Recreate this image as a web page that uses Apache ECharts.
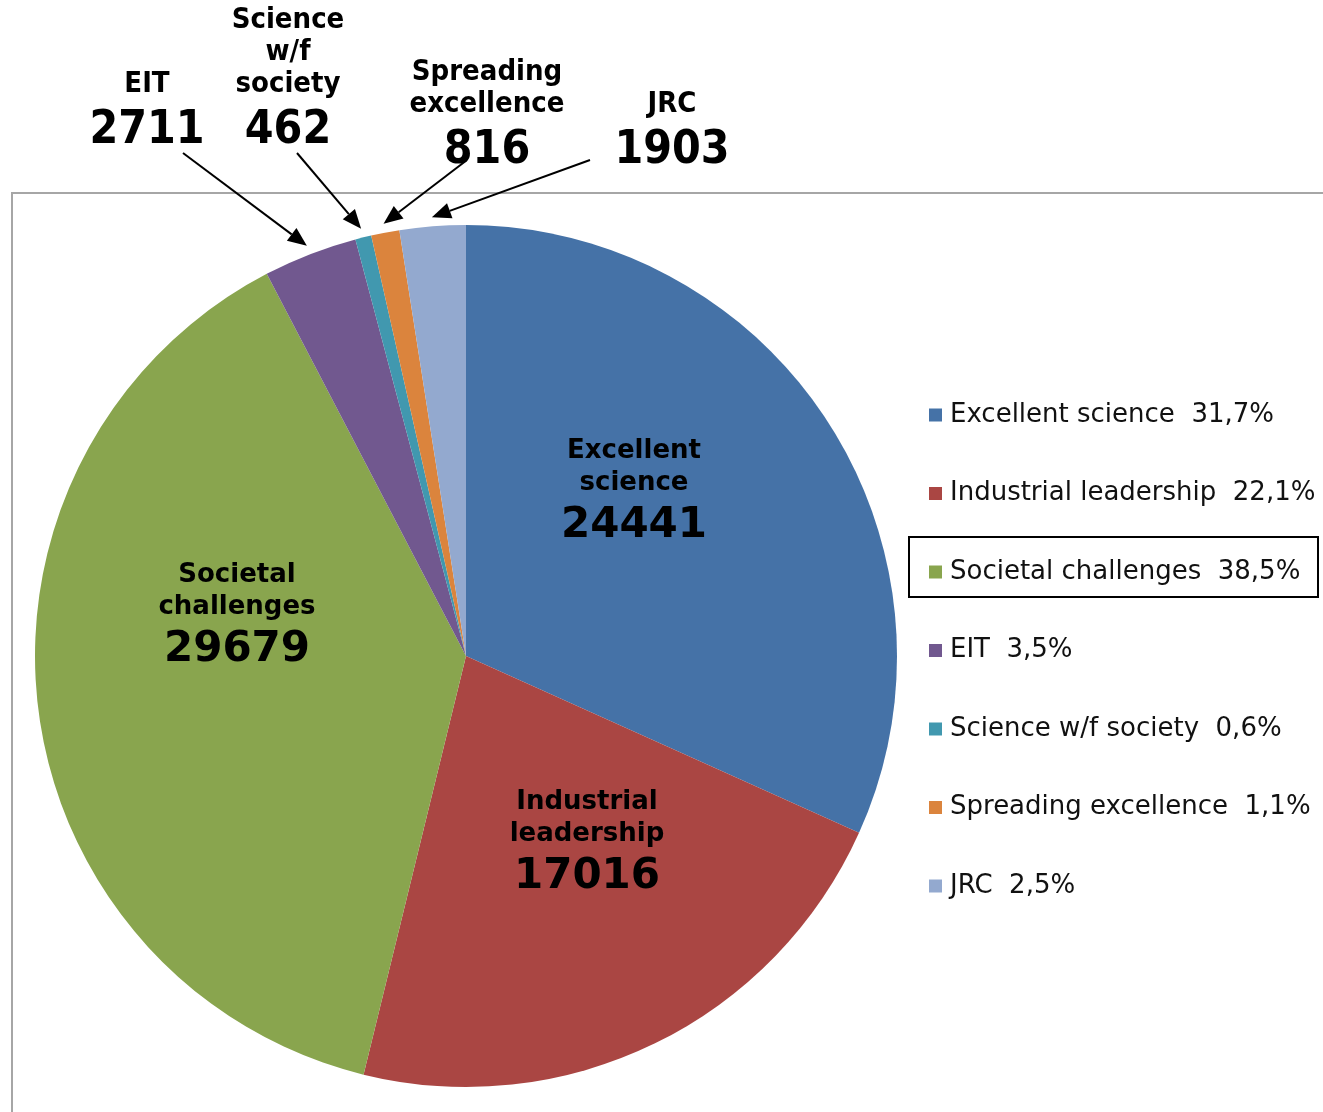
<!DOCTYPE html>
<html>
<head>
  <meta charset="utf-8">
  <title>Horizon 2020 budget</title>
  <script src="https://cdn.jsdelivr.net/npm/echarts@6/dist/echarts.min.js"></script>
  <style>
    html, body { margin: 0; padding: 0; background: #fff; }
    #view { width: 1323px; height: 1112px; }
  </style>
</head>
<body>
  <div id="view"></div>
  <script>
    // data
    var categories = ['Excellent science', 'Industrial leadership', 'Societal challenges', 'EIT',
      'Science w/f society', 'Spreading excellence', 'JRC'];
    var labelNames = ['Excellent\nscience', 'Industrial\nleadership', 'Societal\nchallenges', 'EIT',
      'Science\nw/f\nsociety', 'Spreading\nexcellence', 'JRC'];
    var values = [24441, 17016, 29679, 2711, 462, 816, 1903];
    var colors = ['#4572A7', '#AA4643', '#89A54E', '#71588F', '#4198AF', '#DB843D', '#93A9CF'];

    var cx = 466, cy = 656, R = 431;
    // where each label sits (x centre, top of first line)
    var labelPos = [[634, 435], [587, 786], [237, 559], [147, 68], [288, 4], [487, 56], [672, 88]];
    // arrow tails for the small slices
    var arrowFrom = { 3: [183, 153], 4: [297, 153], 5: [467, 160], 6: [590, 160] };

    var total = 0;
    for (var i = 0; i < values.length; i++) total += values[i];

    function pct(v) {
      return (v / total * 100).toFixed(1).replace('.', ',') + '%';
    }

    var pieData = [];
    for (var i = 0; i < categories.length; i++) {
      pieData.push({ name: categories[i], value: values[i], itemStyle: { color: colors[i] } });
    }

    // plot frame + the selection box round one legend entry
    var graphics = [{
      type: 'rect', z: -10,
      shape: { x: 12, y: 193, width: 1400, height: 1000 },
      style: { fill: 'none', stroke: '#a6a6a6', lineWidth: 2 }
    }, {
      type: 'rect', z: 10,
      shape: { x: 909, y: 537, width: 409, height: 60 },
      style: { fill: 'none', stroke: '#000', lineWidth: 2 }
    }];
    // arrows to the small slices, tip on the slice's middle angle just outside the rim
    var acc = 0;
    for (var i = 0; i < values.length; i++) {
      var mid = (acc + values[i] / 2) / total * Math.PI * 2;
      acc += values[i];
      if (!arrowFrom[i]) continue;
      var tx = cx + (R + 9) * Math.sin(mid), ty = cy - (R + 9) * Math.cos(mid);
      var sx = arrowFrom[i][0], sy = arrowFrom[i][1];
      var ang = Math.atan2(ty - sy, tx - sx);
      var hl = 19, hw = 8;
      var bx = tx - hl * Math.cos(ang), by = ty - hl * Math.sin(ang);
      graphics.push({
        type: 'line', z: 20,
        shape: { x1: sx, y1: sy, x2: bx, y2: by },
        style: { stroke: '#000', lineWidth: 2 }
      });
      graphics.push({
        type: 'polygon', z: 20,
        shape: { points: [[tx, ty],
          [bx + hw * Math.sin(ang), by - hw * Math.cos(ang)],
          [bx - hw * Math.sin(ang), by + hw * Math.cos(ang)]] },
        style: { fill: '#000' }
      });
    }

    var myChart = echarts.init(document.getElementById('view'));
    var option = {
      animation: false,
      legend: {
        orient: 'vertical',
        left: 929,
        top: 402,
        padding: 0,
        icon: 'rect',
        itemWidth: 13,
        itemHeight: 13,
        itemGap: 52.5,
        selectedMode: false,
        data: categories,
        textStyle: { fontFamily: 'DejaVu Sans', fontSize: 26, lineHeight: 24, color: '#111', padding: [0, 0, 0, 3] },
        formatter: function (name) {
          return name + '  ' + pct(values[categories.indexOf(name)]);
        }
      },
      graphic: graphics,
      series: [{
        type: 'pie',
        center: [cx, cy],
        radius: R,
        startAngle: 90,
        clockwise: true,
        silent: true,
        emphasis: { disabled: true },
        itemStyle: { borderWidth: 0 },
        data: pieData,
        labelLine: { show: false },
        label: {
          show: true,
          position: 'inside',
          color: '#000',
          formatter: function (p) {
            var big = p.dataIndex < 3;
            var n = labelNames[p.dataIndex];
            return n.split('\n').map(function (s) { return '{' + (big ? 'n' : 'tn') + '|' + s + '}'; }).join('\n') +
              '\n{' + (big ? 'v' : 'tv') + '|' + p.value + '}';
          },
          rich: {
            n: { fontFamily: 'DejaVu Sans', fontWeight: 'bold', fontSize: 26, lineHeight: 32, color: '#000', align: 'center' },
            v: { fontFamily: 'DejaVu Sans', fontWeight: 'bold', fontSize: 42, lineHeight: 55, color: '#000', align: 'center' },
            tn: { fontFamily: 'DejaVu Sans Condensed', fontWeight: 'bold', fontSize: 29, lineHeight: 32, color: '#000', align: 'center' },
            tv: { fontFamily: 'DejaVu Sans Condensed', fontWeight: 'bold', fontSize: 46, lineHeight: 62, color: '#000', align: 'center' }
          }
        },
        labelLayout: function (p) {
          var pos = labelPos[p.dataIndex];
          return { x: pos[0], y: pos[1], align: 'center', verticalAlign: 'top' };
        }
      }]
    };
    myChart.setOption(option);
  </script>
</body>
</html>
